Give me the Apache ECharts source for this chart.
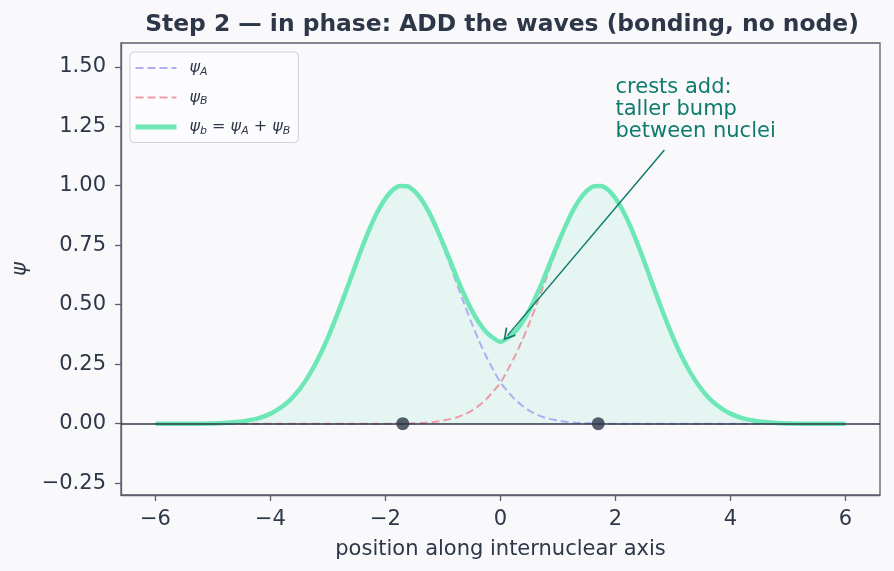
<!DOCTYPE html>
<html lang="en" style="height: 100%">
  <head>
    <meta charset="utf-8" />
  </head>
  <body style="height: 100%; margin: 0; background: #f9f9fc">
    <div id="container" style="width: 894px; height: 571px"></div>

    <script src="https://cdn.jsdelivr.net/npm/echarts@6/dist/echarts.min.js"></script>

    <script type="text/javascript">
      // sample positions along the axis (finer near the nuclei)
      var xs = [-6, -5.5, -5, -4.75,
        -4.5, -4.375, -4.25, -4.125, -4, -3.875, -3.75, -3.625, -3.5, -3.375, -3.25, -3.125,
        -3, -2.875, -2.75, -2.625, -2.5, -2.375, -2.25, -2.125, -2, -1.875, -1.75, -1.625,
        -1.5, -1.375, -1.25, -1.125, -1, -0.875, -0.75, -0.625, -0.5, -0.375, -0.25, -0.125,
        0, 0.125, 0.25, 0.375, 0.5, 0.625, 0.75, 0.875, 1, 1.125, 1.25, 1.375,
        1.5, 1.625, 1.75, 1.875, 2, 2.125, 2.25, 2.375, 2.5, 2.625, 2.75, 2.875,
        3, 3.125, 3.25, 3.375, 3.5, 3.625, 3.75, 3.875, 4, 4.125, 4.25, 4.375, 4.5,
        4.75, 5, 5.5, 6];
      var psiA = [0, 0, 0.001, 0.004,
        0.009, 0.014, 0.02, 0.029, 0.042, 0.059, 0.08, 0.108, 0.143, 0.186, 0.237, 0.296,
        0.363, 0.437, 0.516, 0.598, 0.681, 0.761, 0.834, 0.897, 0.947, 0.982, 0.998, 0.997,
        0.976, 0.939, 0.886, 0.82, 0.745, 0.665, 0.582, 0.5, 0.421, 0.349, 0.283, 0.226,
        0.172, 0.136, 0.102, 0.076, 0.055, 0.039, 0.027, 0.019, 0.013, 0.008, 0.005, 0.003,
        0.002, 0.001, 0.001, 0, 0, 0, 0, 0, 0, 0, 0, 0,
        0, 0, 0, 0, 0, 0, 0, 0, 0, 0, 0, 0, 0,
        0, 0, 0, 0];
      var psiB = [0, 0, 0, 0,
        0, 0, 0, 0, 0, 0, 0, 0, 0, 0, 0, 0,
        0, 0, 0, 0, 0, 0, 0, 0, 0, 0, 0.001, 0.001,
        0.002, 0.003, 0.005, 0.008, 0.013, 0.019, 0.027, 0.039, 0.055, 0.076, 0.102, 0.136,
        0.172, 0.226, 0.283, 0.349, 0.421, 0.5, 0.582, 0.665, 0.745, 0.82, 0.886, 0.939,
        0.976, 0.997, 0.998, 0.982, 0.947, 0.897, 0.834, 0.761, 0.681, 0.598, 0.516, 0.437,
        0.363, 0.296, 0.237, 0.186, 0.143, 0.108, 0.08, 0.059, 0.042, 0.029, 0.02, 0.014, 0.009,
        0.004, 0.001, 0, 0];
      var psiSum = [0, 0, 0.001, 0.004,
        0.009, 0.014, 0.02, 0.029, 0.042, 0.059, 0.08, 0.108, 0.143, 0.186, 0.237, 0.296,
        0.363, 0.437, 0.516, 0.598, 0.681, 0.761, 0.834, 0.897, 0.947, 0.982, 0.999, 0.998,
        0.978, 0.942, 0.891, 0.828, 0.758, 0.684, 0.609, 0.539, 0.476, 0.425, 0.385, 0.36,
        0.344, 0.36, 0.385, 0.425, 0.476, 0.539, 0.609, 0.684, 0.758, 0.828, 0.891, 0.942,
        0.978, 0.998, 0.999, 0.982, 0.947, 0.897, 0.834, 0.761, 0.681, 0.598, 0.516, 0.437,
        0.363, 0.296, 0.237, 0.186, 0.143, 0.108, 0.08, 0.059, 0.042, 0.029, 0.02, 0.014, 0.009,
        0.004, 0.001, 0, 0];
      var nucleiX = [-1.7, 1.7];
      var xTicks = [-6, -4, -2, 0, 2, 4, 6];
      var yTicks = [-0.25, 0, 0.25, 0.5, 0.75, 1, 1.25, 1.5];
      var arrowFrom = [2.85, 1.15];
      var arrowTo = [0.12, 0.37];
      var notePos = [2.0, 1.18];

      var ink = "#2d3748";
      var spine = "#5b5f6e";
      var teal = "#0f7b6c";
      var font = "DejaVu Sans";

      function pairs(ys) {
        return xs.map(function (x, i) {
          return [x, ys[i]];
        });
      }
      function minus(s) {
        return String(s).replace("-", "\u2212");
      }

      var legendText = {
        psiA: "{i|ψ}{s|A}",
        psiB: "{i|ψ}{s|B}",
        psib: "{i|ψ}{s|b}{t| = }{i|ψ}{s|A}{t| + }{i|ψ}{s|B}",
      };

      var myChart = echarts.init(document.getElementById("container"), null, {
        renderer: "canvas",
      });

      var option = {
        backgroundColor: "#f9f9fc",
        animation: false,
        textStyle: { fontFamily: font, color: ink },
        title: {
          text: "Step 2 — in phase: ADD the waves (bonding, no node)",
          left: 497,
          textAlign: "center",
          top: 8,
          textStyle: { fontFamily: font, fontSize: 23.4, fontWeight: "bold", color: ink },
        },
        grid: {
          left: 121,
          right: 14,
          top: 43,
          bottom: 76,
          show: true,
          borderColor: spine,
          borderWidth: 1.3,
          outerBoundsMode: "none",
        },
        legend: {
          left: 130,
          top: 52,
          orient: "vertical",
          data: [
            { name: "psiA", lineStyle: { width: 2 } },
            { name: "psiB", lineStyle: { width: 2 } },
            { name: "psib", lineStyle: { width: 5 } },
          ],
          backgroundColor: "#fcfcfe",
          borderColor: "#cfd1d8",
          borderWidth: 1,
          borderRadius: 4,
          padding: [8, 8, 6, 3],
          itemWidth: 41,
          itemHeight: 14,
          itemGap: 12,
          itemStyle: { opacity: 0 },
          formatter: function (name) {
            return legendText[name];
          },
          textStyle: {
            color: ink,
            padding: [0, 0, 0, 8],
            rich: {
              i: { fontFamily: font, fontSize: 16, fontStyle: "italic", color: ink },
              s: { fontFamily: font, fontSize: 11, fontStyle: "italic", color: ink, padding: [8, 0, 0, 0] },
              t: { fontFamily: font, fontSize: 16, color: ink },
            },
          },
        },
        xAxis: {
          type: "value",
          min: -6.6,
          max: 6.6,
          name: "position along internuclear axis",
          nameLocation: "middle",
          nameGap: 44,
          nameTextStyle: { fontFamily: font, fontSize: 21, color: ink },
          splitLine: { show: false },
          axisLine: { show: true, onZero: false, lineStyle: { color: spine, width: 1.3 } },
          axisTick: { show: true, length: 6, lineStyle: { color: spine, width: 1.3 }, customValues: xTicks },
          axisLabel: {
            customValues: xTicks,
            margin: 14,
            fontFamily: font,
            fontSize: 21,
            color: ink,
            formatter: function (v) {
              return minus(v);
            },
          },
        },
        yAxis: {
          type: "value",
          min: -0.3,
          max: 1.6,
          name: "ψ",
          nameLocation: "middle",
          nameGap: 90,
          nameTextStyle: { fontFamily: font, fontSize: 21, fontStyle: "italic", color: ink },
          splitLine: { show: false },
          axisLine: { show: true, onZero: false, lineStyle: { color: spine, width: 1.3 } },
          axisTick: { show: true, length: 6, lineStyle: { color: spine, width: 1.3 }, customValues: yTicks },
          axisLabel: {
            customValues: yTicks,
            margin: 15,
            fontFamily: font,
            fontSize: 21,
            color: ink,
            formatter: function (v) {
              return minus(v.toFixed(2));
            },
          },
        },
        series: [
          {
            name: "psib-fill",
            type: "line",
            data: pairs(psiSum),
            smooth: 0.3,
            symbol: "none",
            lineStyle: { width: 0 },
            areaStyle: { color: "rgba(110, 231, 183, 0.2)" },
            silent: true,
            z: 1,
          },
          {
            name: "psiA",
            type: "line",
            data: pairs(psiA),
            smooth: 0.3,
            symbol: "none",
            color: "#aeaef0",
            lineStyle: { color: "#aeaef0", width: 2, type: [8, 4] },
            z: 2,
          },
          {
            name: "psiB",
            type: "line",
            data: pairs(psiB),
            smooth: 0.3,
            symbol: "none",
            color: "#ef9aa9",
            lineStyle: { color: "#ef9aa9", width: 2, type: [8, 4] },
            z: 2,
          },
          {
            name: "psib",
            type: "line",
            data: pairs(psiSum),
            smooth: 0.3,
            symbol: "none",
            color: "#6ee7b7",
            lineStyle: { color: "#6ee7b7", width: 4.5 },
            z: 3,
            markLine: {
              silent: true,
              symbol: ["none", "none"],
              lineStyle: { color: ink, width: 1.5, type: "solid" },
              label: { show: false },
              data: [{ yAxis: 0 }],
            },
          },
          {
            name: "note",
            type: "scatter",
            data: [],
            z: 5,
            markLine: {
              silent: true,
              symbol: ["none", "path://M5,0L10,9L8.9,9.8L5,2.6L1.1,9.8L0,9Z"],
              symbolSize: [13, 12],
              lineStyle: { color: teal, width: 1.5, type: "solid" },
              itemStyle: { color: teal },
              label: { show: false },
              data: [[{ coord: arrowFrom }, { coord: arrowTo }]],
            },
            markPoint: {
              silent: true,
              symbol: "circle",
              symbolSize: 0,
              data: [{ coord: notePos }],
              label: {
                show: true,
                position: [0, 0],
                align: "left",
                verticalAlign: "bottom",
                formatter: "crests add:\ntaller bump\nbetween nuclei",
                fontFamily: font,
                fontSize: 21,
                lineHeight: 22,
                color: teal,
              },
            },
          },
          {
            name: "nuclei",
            type: "scatter",
            data: nucleiX.map(function (x) {
              return [x, 0];
            }),
            symbolSize: 13,
            itemStyle: { color: ink },
            z: 6,
          },
        ],
      };

      myChart.setOption(option);
    </script>
  </body>
</html>
